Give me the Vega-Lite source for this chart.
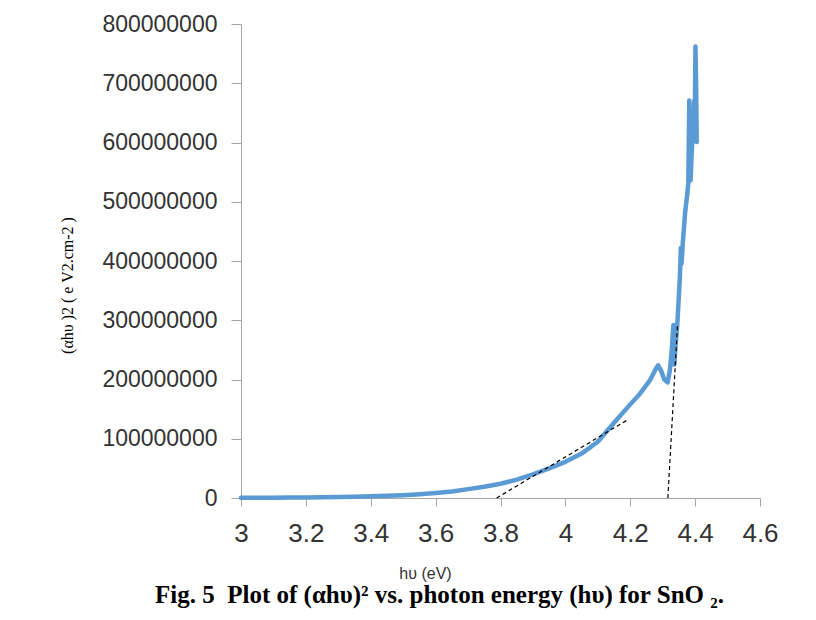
{
  "$schema": "https://vega.github.io/schema/vega-lite/v6.json",
  "autosize": {"type": "none"},
  "width": 519,
  "height": 474,
  "padding": {"left": 241, "top": 24, "right": 56, "bottom": 122},
  "background": "white",
  "view": {"stroke": null},
  "datasets": {
    "curve": [
      {"hv": 3.00, "ahv2": 300000},
      {"hv": 3.05, "ahv2": 400000},
      {"hv": 3.10, "ahv2": 500000},
      {"hv": 3.15, "ahv2": 700000},
      {"hv": 3.20, "ahv2": 900000},
      {"hv": 3.25, "ahv2": 1200000},
      {"hv": 3.30, "ahv2": 1600000},
      {"hv": 3.35, "ahv2": 2100000},
      {"hv": 3.40, "ahv2": 2800000},
      {"hv": 3.45, "ahv2": 3700000},
      {"hv": 3.50, "ahv2": 4800000},
      {"hv": 3.55, "ahv2": 6500000},
      {"hv": 3.60, "ahv2": 8500000},
      {"hv": 3.65, "ahv2": 11000000},
      {"hv": 3.70, "ahv2": 15000000},
      {"hv": 3.75, "ahv2": 19000000},
      {"hv": 3.80, "ahv2": 24000000},
      {"hv": 3.85, "ahv2": 31000000},
      {"hv": 3.90, "ahv2": 40000000},
      {"hv": 3.95, "ahv2": 50000000},
      {"hv": 4.00, "ahv2": 61000000},
      {"hv": 4.05, "ahv2": 75000000},
      {"hv": 4.10, "ahv2": 95000000},
      {"hv": 4.15, "ahv2": 127000000},
      {"hv": 4.20, "ahv2": 158000000},
      {"hv": 4.23, "ahv2": 176000000},
      {"hv": 4.26, "ahv2": 198000000},
      {"hv": 4.275, "ahv2": 214000000},
      {"hv": 4.286, "ahv2": 224000000},
      {"hv": 4.295, "ahv2": 215000000},
      {"hv": 4.305, "ahv2": 200000000},
      {"hv": 4.315, "ahv2": 195000000},
      {"hv": 4.322, "ahv2": 215000000},
      {"hv": 4.328, "ahv2": 250000000},
      {"hv": 4.333, "ahv2": 292000000},
      {"hv": 4.336, "ahv2": 225000000},
      {"hv": 4.340, "ahv2": 260000000},
      {"hv": 4.345, "ahv2": 292000000},
      {"hv": 4.353, "ahv2": 373000000},
      {"hv": 4.356, "ahv2": 422000000},
      {"hv": 4.358, "ahv2": 395000000},
      {"hv": 4.362, "ahv2": 430000000},
      {"hv": 4.369, "ahv2": 481000000},
      {"hv": 4.376, "ahv2": 514000000},
      {"hv": 4.379, "ahv2": 531000000},
      {"hv": 4.382, "ahv2": 671000000},
      {"hv": 4.384, "ahv2": 560000000},
      {"hv": 4.386, "ahv2": 536000000},
      {"hv": 4.390, "ahv2": 590000000},
      {"hv": 4.394, "ahv2": 620000000},
      {"hv": 4.397, "ahv2": 670000000},
      {"hv": 4.399, "ahv2": 640000000},
      {"hv": 4.401, "ahv2": 762000000},
      {"hv": 4.403, "ahv2": 700000000},
      {"hv": 4.405, "ahv2": 601000000}
    ],
    "tangents": [
      {"line": "a", "hv": 3.788, "ahv2": 0},
      {"line": "a", "hv": 4.189, "ahv2": 131000000},
      {"line": "b", "hv": 4.316, "ahv2": 0},
      {"line": "b", "hv": 4.346, "ahv2": 295000000}
    ]
  },
  "title": {
    "text": "Fig. 5\u00a0\u00a0Plot of (αhυ)² vs. photon energy (hυ) for SnO\u00a0₂.",
    "orient": "bottom",
    "anchor": "middle",
    "frame": "group",
    "dx": -61,
    "offset": 2,
    "font": "Liberation Serif",
    "fontSize": 25,
    "fontWeight": "bold",
    "color": "black"
  },
  "encoding": {
    "x": {
      "field": "hv",
      "type": "quantitative",
      "scale": {"domain": [3, 4.6], "nice": false, "zero": false},
      "axis": {
        "title": "hυ (eV)",
        "values": [3, 3.2, 3.4, 3.6, 3.8, 4, 4.2, 4.4, 4.6],
        "format": "~g",
        "grid": false,
        "domainColor": "#a6a6a6",
        "tickColor": "#a6a6a6",
        "tickSize": 8,
        "labelFont": "Liberation Sans",
        "labelFontSize": 26,
        "labelColor": "#333333",
        "labelPadding": 14,
        "labelFlush": false,
        "titleFont": "Liberation Sans",
        "titleFontSize": 16,
        "titleFontWeight": "normal",
        "titleColor": "#333333",
        "titleX": 184,
        "titleY": 80,
        "titleBaseline": "alphabetic"
      }
    },
    "y": {
      "field": "ahv2",
      "type": "quantitative",
      "scale": {"domain": [0, 800000000], "nice": false},
      "axis": {
        "title": "(αhυ )2 ( e V2.cm-2 )",
        "values": [0, 100000000, 200000000, 300000000, 400000000, 500000000, 600000000, 700000000, 800000000],
        "format": "d",
        "grid": false,
        "domainColor": "#a6a6a6",
        "tickColor": "#a6a6a6",
        "tickSize": 10,
        "labelFont": "Liberation Sans",
        "labelFontSize": 23,
        "labelColor": "#333333",
        "labelPadding": 14,
        "labelFlush": false,
        "titleFont": "Liberation Serif",
        "titleFontSize": 16,
        "titleFontWeight": "normal",
        "titleColor": "black",
        "titleX": -166,
        "titleY": 261
      }
    }
  },
  "layer": [
    {
      "data": {"name": "curve"},
      "mark": {"type": "line", "color": "#5b9bd5", "strokeWidth": 4.5, "strokeJoin": "round", "strokeCap": "round"}
    },
    {
      "data": {"name": "tangents"},
      "mark": {"type": "line", "color": "black", "strokeWidth": 1.2, "strokeDash": [4, 3]},
      "encoding": {"detail": {"field": "line", "type": "nominal"}}
    }
  ]
}
